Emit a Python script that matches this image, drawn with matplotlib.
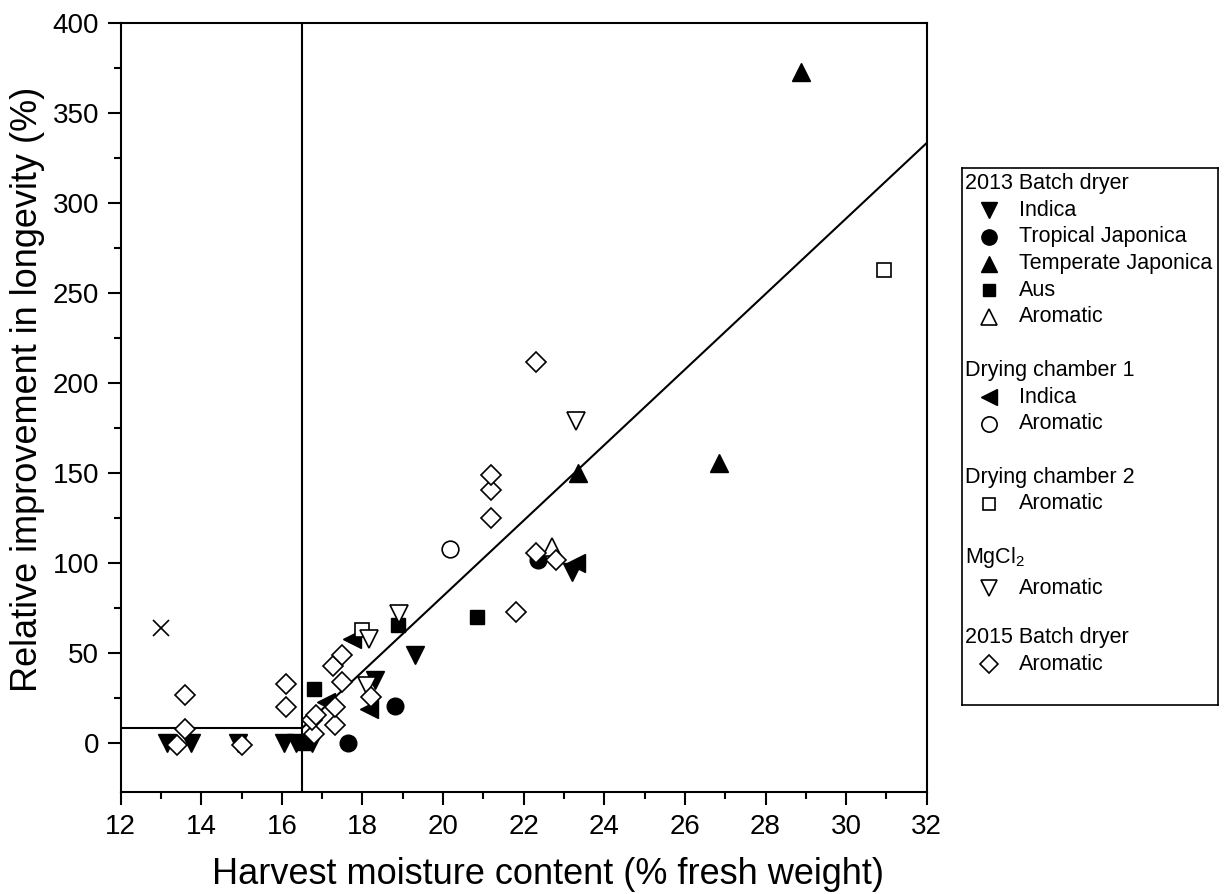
import matplotlib
matplotlib.use('Agg')
import matplotlib.pyplot as plt
import numpy as np

plt.rcParams['font.family'] = ['Liberation Sans', 'DejaVu Sans']
plt.rcParams['mathtext.fontset'] = 'custom'
plt.rcParams['mathtext.rm'] = 'Liberation Sans'

# 2013 Batch dryer
indica13_x = [13.15, 13.75, 14.9, 16.05, 16.35, 16.75, 18.3, 19.3, 23.2]
indica13_y = [0, 0, 0, 0, 0, 0, 35, 49, 95]
tropjap_x = [17.65, 18.8, 22.35]
tropjap_y = [0, 21, 102]
tempjap_x = [23.35, 26.85, 28.87]
tempjap_y = [150, 156, 373]
aus_x = [16.55, 16.8, 18.87, 20.83]
aus_y = [0, 30, 66, 70]
arom13_x = [22.7]
arom13_y = [109]

# Drying chamber 1
indica_c1_x = [17.1, 17.75, 18.15, 23.3]
indica_c1_y = [23, 58, 19, 100]
arom_c1_x = [20.18]
arom_c1_y = [108]

# Drying chamber 2
arom_c2_x = [17.98, 30.95]
arom_c2_y = [63, 263]

# MgCl2
mgcl2_x = [18.1, 18.15, 18.9, 23.3]
mgcl2_y = [32, 58, 72, 179]

# 2015 Batch dryer
arom15_x = [13.4, 13.6, 13.6, 15.0, 16.1, 16.1, 16.8, 16.75, 16.85, 17.32, 17.32,
            17.28, 17.48, 17.5, 18.2, 21.2, 21.2, 21.2, 21.8, 22.3, 22.3, 22.8]
arom15_y = [-1, 8, 27, -1, 20, 33, 5, 13, 16, 10, 20,
            43, 34, 49, 26, 125, 141, 149, 73, 106, 212, 102]

# unlabelled point
other_x = [13.0]
other_y = [64]

# threshold model lines
thresh_x = 16.5
base_y = 8.5
fit_x = [16.5, 32]
fit_y = [8.5, 333.5]

fig = plt.figure(figsize=(12.25, 8.94), dpi=100)
ax = fig.add_axes([0.0985, 0.114, 0.658, 0.86])

filled = dict(color='black', linestyle='none')
hollow = dict(color='black', markerfacecolor='white', linestyle='none', markeredgewidth=1.2)
sizes = {'v': 13, '^': 13, '<': 13, 'o': 12, 's': 10, 'D': 10}

ax.plot(indica13_x, indica13_y, marker='v', markersize=sizes['v'], **filled)
ax.plot(tropjap_x, tropjap_y, marker='o', markersize=sizes['o'], **filled)
ax.plot(tempjap_x, tempjap_y, marker='^', markersize=sizes['^'], **filled)
ax.plot(aus_x, aus_y, marker='s', markersize=sizes['s'], **filled)
ax.plot(indica_c1_x, indica_c1_y, marker='<', markersize=sizes['<'], **filled)
ax.plot(arom13_x, arom13_y, marker='^', markersize=sizes['^'], **hollow)
ax.plot(arom_c1_x, arom_c1_y, marker='o', markersize=sizes['o'], **hollow)
ax.plot(arom_c2_x, arom_c2_y, marker='s', markersize=sizes['s'], **hollow)
ax.plot(mgcl2_x, mgcl2_y, marker='v', markersize=sizes['v'], **hollow)
ax.plot(arom15_x, arom15_y, marker='D', markersize=sizes['D'], **hollow)
ax.plot(other_x, other_y, marker='x', markersize=12, color='black',
        linestyle='none', markeredgewidth=1.2)

# threshold lines and fitted line
ax.axvline(thresh_x, color='black', linewidth=1.5, zorder=1)
ax.plot([12, thresh_x], [base_y, base_y], color='black', linewidth=1.5, zorder=1)
ax.plot(fit_x, fit_y, color='black', linewidth=1.5, zorder=1)

ax.set_xlim(12, 32)
ax.set_ylim(-27, 400)
ax.set_xticks(np.arange(12, 33, 2))
ax.set_xticks(np.arange(13, 32, 2), minor=True)
ax.set_yticks(np.arange(0, 401, 50))
ax.set_yticks(np.arange(25, 400, 50), minor=True)
ax.tick_params(which='both', direction='out', width=1.5, labelsize=20,
               top=False, right=False, pad=6)
ax.tick_params(which='major', length=9.5)
ax.tick_params(which='minor', length=5)
for s in ax.spines.values():
    s.set_linewidth(1.5)

ax.set_xlabel('Harvest moisture content (% fresh weight)', fontsize=26)
ax.set_ylabel('Relative improvement in longevity (%)', fontsize=26)
ax.xaxis.set_label_coords(0.53, -0.084)
ax.yaxis.set_label_coords(-0.094, 0.524)

# legend drawn by hand in its own box
legend_rows = [
    ('2013 Batch dryer', None),
    ('Indica', dict(marker='v', **filled)),
    ('Tropical Japonica', dict(marker='o', **filled)),
    ('Temperate Japonica', dict(marker='^', **filled)),
    ('Aus', dict(marker='s', **filled)),
    ('Aromatic', dict(marker='^', **hollow)),
    ('', None),
    ('Drying chamber 1', None),
    ('Indica', dict(marker='<', **filled)),
    ('Aromatic', dict(marker='o', **hollow)),
    ('', None),
    ('Drying chamber 2', None),
    ('Aromatic', dict(marker='s', **hollow)),
    ('', None),
    ('MgCl$_2$', None),
    ('Aromatic', dict(marker='v', **hollow)),
    ('', None),
    ('2015 Batch dryer', None),
    ('Aromatic', dict(marker='D', **hollow)),
]

lax = fig.add_axes([962 / 1225, 1 - 705 / 894, 256 / 1225, 537 / 894])
lax.set_xlim(0, 256)
lax.set_ylim(537, 0)
lax.set_xticks([])
lax.set_yticks([])
for s in lax.spines.values():
    s.set_linewidth(1.2)

step = 26.7
for i, (label, style) in enumerate(legend_rows):
    yy = 15.5 + i * step
    if i == 15:
        yy += 4
    if style is None:
        lax.text(3, yy, label, fontsize=15.5, va='center', ha='left')
    else:
        lax.plot([27], [yy], markersize=sizes[style['marker']] - 1, **style)
        lax.text(57, yy, label, fontsize=15.5, va='center', ha='left')

fig.savefig('out.png', dpi=100)
